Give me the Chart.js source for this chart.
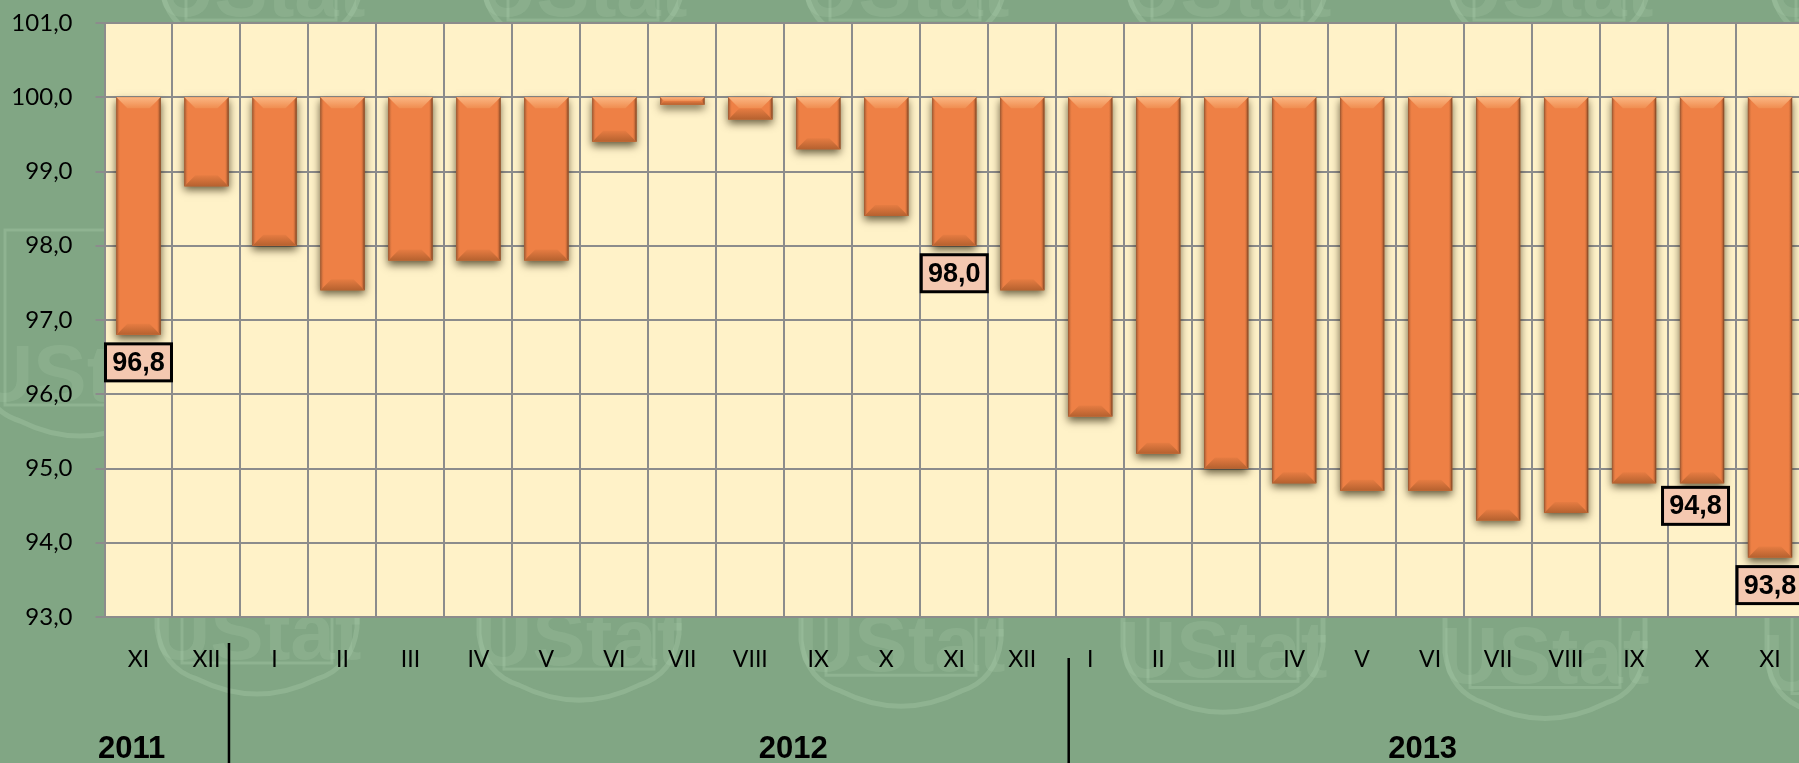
<!DOCTYPE html>
<html>
<head>
<meta charset="utf-8">
<title>Chart</title>
<script src="https://cdn.jsdelivr.net/npm/chart.js@4"></script>
<style>
  html, body { margin: 0; padding: 0; width: 1799px; height: 763px; overflow: hidden; background: #81a684; }
  canvas { display: block; }
</style>
</head>
<body>
<canvas id="chart" width="1830" height="763"></canvas>
<script>
const months = ["XI", "XII", "I", "II", "III", "IV", "V", "VI", "VII", "VIII", "IX", "X", "XI", "XII", "I", "II", "III", "IV", "V", "VI", "VII", "VIII", "IX", "X", "XI"];
const values = [96.8, 98.8, 98.0, 97.4, 97.8, 97.8, 97.8, 99.4, 99.9, 99.7, 99.3, 98.4, 98.0, 97.4, 95.7, 95.2, 95.0, 94.8, 94.7, 94.7, 94.3, 94.4, 94.8, 94.8, 93.8];
const baseline = 100;
const labelled = [0, 12, 23, 24];
const years = ["2011", "2012", "2013"];
const yearCenters = [-0.1, 9.63, 18.89]; // in category index units

const fmt = v => v.toFixed(1).replace(".", ",");

// faint logo tiled behind the chart
function shield(ctx, cx, bottom) {
  ctx.save();
  ctx.translate(cx, bottom);
  ctx.strokeStyle = "rgba(176,210,176,0.30)";
  ctx.fillStyle = "rgba(176,210,176,0.20)";
  ctx.lineWidth = 5;
  ctx.beginPath();
  ctx.moveTo(-100, -235);
  ctx.lineTo(-100, -75);
  ctx.quadraticCurveTo(-95, -35, -60, -24);
  ctx.quadraticCurveTo(0, 6, 60, -24);
  ctx.quadraticCurveTo(95, -35, 100, -75);
  ctx.lineTo(100, -235);
  ctx.stroke();
  ctx.lineWidth = 3;
  ctx.strokeRect(-75, -215, 150, 175);
  ctx.font = "bold 80px 'Liberation Sans Narrow', 'Liberation Sans'";
  ctx.textAlign = "center";
  ctx.textBaseline = "alphabetic";
  ctx.fillText("UStat", 0, -44);
  ctx.restore();
}

const backdrop = {
  id: "backdrop",
  beforeDraw(chart) {
    const { ctx, chartArea: a } = chart;
    ctx.save();
    ctx.fillStyle = "#81a684";
    ctx.fillRect(0, 0, chart.width, chart.height);
    shield(ctx, 80, 445);
    for (let i = 0; i < 6; i++) {
      const x = 257 + i * 322;
      shield(ctx, x, 703 + (x - 257) * 0.019);
      shield(ctx, x + 4, 60);
    }
    ctx.fillStyle = "#fff2c8";
    ctx.fillRect(a.left, a.top, a.right - a.left, a.bottom - a.top);
    ctx.restore();
  }
};

const barGeom = el => {
  const p = el.getProps(["x", "y", "base", "width"], true);
  const top = Math.min(p.y, p.base);
  const bottom = Math.max(p.y, p.base);
  return { l: p.x - p.width / 2, r: p.x + p.width / 2, top, bottom, w: p.width, x: p.x };
};

const poly = (ctx, pts, fill) => {
  ctx.fillStyle = fill;
  ctx.beginPath();
  pts.forEach(([x, y], i) => i ? ctx.lineTo(x, y) : ctx.moveTo(x, y));
  ctx.closePath();
  ctx.fill();
};

// soft drop shadow under the bars, bevel on top of them
const bevel = {
  id: "bevel",
  beforeDatasetsDraw(chart) {
    const { ctx } = chart;
    ctx.save();
    ctx.shadowColor = "rgba(40,30,5,0.7)";
    ctx.shadowBlur = 8;
    ctx.shadowOffsetY = 4;
    ctx.fillStyle = "#8a5a30";
    chart.getDatasetMeta(0).data.forEach(el => {
      const g = barGeom(el);
      ctx.fillRect(g.l, g.top, g.w, g.bottom - g.top);
    });
    ctx.restore();
  },
  afterDatasetsDraw(chart) {
    const { ctx } = chart;
    ctx.save();
    chart.getDatasetMeta(0).data.forEach(el => {
      const { l, r, top, bottom } = barGeom(el);
      const d = Math.min(11, (bottom - top) / 2);
      const topFill = ctx.createLinearGradient(0, top, 0, top + d);
      topFill.addColorStop(0, "#fbb682");
      topFill.addColorStop(1, "#f08d50");
      poly(ctx, [[l, top], [r, top], [r - d, top + d], [l + d, top + d]], topFill);
      const botFill = ctx.createLinearGradient(0, bottom - d, 0, bottom);
      botFill.addColorStop(0, "#e67c42");
      botFill.addColorStop(1, "#b5612f");
      poly(ctx, [[l, bottom], [r, bottom], [r - d, bottom - d], [l + d, bottom - d]], botFill);
      const e = Math.min(4, d);
      const leftFill = ctx.createLinearGradient(l, 0, l + e, 0);
      leftFill.addColorStop(0, "#8f5230");
      leftFill.addColorStop(1, "rgba(237,125,64,0)");
      poly(ctx, [[l, top], [l + e, top + e], [l + e, bottom - e], [l, bottom]], leftFill);
      const rightFill = ctx.createLinearGradient(r - e, 0, r, 0);
      rightFill.addColorStop(0, "rgba(237,125,64,0)");
      rightFill.addColorStop(1, "#6e3d20");
      poly(ctx, [[r, top], [r - e, top + e], [r - e, bottom - e], [r, bottom]], rightFill);
    });
    ctx.restore();
  }
};

// boxed value labels under the selected bars
const valueLabels = {
  id: "valueLabels",
  afterDatasetsDraw(chart, args, opts) {
    const { ctx } = chart;
    const meta = chart.getDatasetMeta(0);
    ctx.save();
    ctx.font = "bold 27px 'Liberation Sans'";
    ctx.textAlign = "center";
    ctx.textBaseline = "middle";
    labelled.forEach(i => {
      const g = barGeom(meta.data[i]);
      const nudge = opts.nudge[i] || [0, 0];
      const cx = g.x + nudge[0];
      const y = g.bottom + 9 + nudge[1];
      ctx.fillStyle = "#f4c8b0";
      ctx.fillRect(cx - 33, y, 66, 37);
      ctx.strokeStyle = "#000";
      ctx.lineWidth = 3;
      ctx.strokeRect(cx - 33, y, 66, 37);
      ctx.fillStyle = "#000";
      ctx.fillText(fmt(values[i]), cx, y + 19.5);
    });
    ctx.restore();
  }
};

// year captions and the separators between them
const yearAxis = {
  id: "yearAxis",
  afterDraw(chart) {
    const { ctx, scales: { x } } = chart;
    ctx.save();
    ctx.fillStyle = "#000";
    ctx.font = "bold 31px 'Liberation Sans'";
    ctx.textAlign = "center";
    ctx.textBaseline = "alphabetic";
    years.forEach((y, i) => ctx.fillText(y, x.getPixelForDecimal((yearCenters[i] + 0.5) / months.length), 758));
    ctx.strokeStyle = "#000";
    ctx.lineWidth = 2.5;
    ctx.beginPath();
    ctx.moveTo(x.getPixelForValue(1) + 22.5, 643);
    ctx.lineTo(x.getPixelForValue(1) + 22.5, 763);
    ctx.moveTo(x.getPixelForValue(14) - 21.5, 658);
    ctx.lineTo(x.getPixelForValue(14) - 21.5, 763);
    ctx.stroke();
    ctx.restore();
  }
};

new Chart(document.getElementById("chart"), {
  type: "bar",
  data: {
    labels: months,
    datasets: [{
      data: values.map(v => [v, baseline]),
      backgroundColor: "#ee8045",
      borderWidth: 0,
      borderSkipped: false,
      barPercentage: 0.65,
      categoryPercentage: 1
    }]
  },
  options: {
    responsive: false,
    animation: false,
    layout: { padding: { top: 23, right: 26, left: 0, bottom: 0 } },
    plugins: {
      legend: { display: false },
      tooltip: { enabled: false },
      valueLabels: { nudge: { 23: [-6.5, -5] } }
    },
    scales: {
      x: {
        grid: { color: "#8c8c8c", lineWidth: 2, drawTicks: false, offset: true },
        border: { color: "#8c8c8c", width: 2 },
        ticks: { color: "#000", font: { family: "Lato", size: 23 }, padding: 29, maxRotation: 0, autoSkip: false },
        afterFit(scale) { scale.height = 146; }
      },
      y: {
        min: 93,
        max: 101,
        grid: { color: "#8c8c8c", lineWidth: 2, tickLength: 9 },
        border: { color: "#8c8c8c", width: 2 },
        ticks: { color: "#000", font: { family: "Lato", size: 24 }, padding: 23, stepSize: 1, callback: v => fmt(v) },
        afterFit(scale) {
          scale.width = 104.5;
          scale.paddingTop = 0;
          scale.paddingBottom = 0;
        }
      }
    }
  },
  plugins: [backdrop, bevel, valueLabels, yearAxis]
});
</script>
</body>
</html>
